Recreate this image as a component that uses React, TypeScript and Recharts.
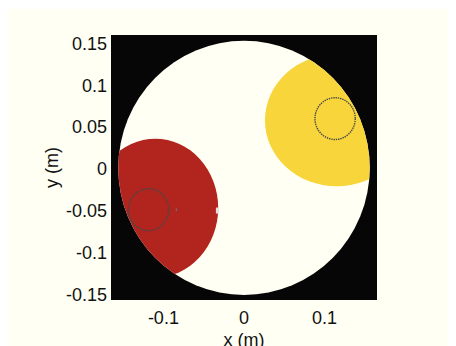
import { CartesianGrid, ReferenceArea, Scatter, ScatterChart, XAxis, YAxis } from "recharts";

const xTicks = [-0.1, 0, 0.1];
const yTicks = [-0.15, -0.1, -0.05, 0, 0.05, 0.1, 0.15];
const xDomain = [-0.165, 0.165];
const yDomain = [-0.157, 0.16];

// domain disc, red patch, yellow patch: centre and semi-axes (m)
const patchX = [0, -0.11, 0.115];
const patchY = [0.001, -0.047, 0.058];
const patchRx = [0.156, 0.078, 0.089];
const patchRy = [0.152, 0.083, 0.079];

// dotted rings
const ringX = [-0.1185, 0.113];
const ringY = [-0.049, 0.06];
const ringR = [0.025, 0.025];

// small stray marks
const speckX = [-0.084, -0.033];
const speckY = [-0.049, -0.05];
const specks = speckX.map((x, i) => ({ x, y: speckY[i] }));

const BG = "#fffff4";
const FONT = "'Liberation Sans', Arial, sans-serif";

const ellipseProps = (p: any) => ({
  cx: p.x + p.width / 2,
  cy: p.y + p.height / 2,
  rx: Math.abs(p.width) / 2,
  ry: Math.abs(p.height) / 2,
});

const DiscShape = (p: any) => (
  <g>
    <defs>
      <clipPath id="disc-clip">
        <ellipse {...ellipseProps(p)} />
      </clipPath>
    </defs>
    <ellipse {...ellipseProps(p)} fill={BG} />
  </g>
);

const patchShape = (fill: string) => (p: any) => (
  <g clipPath="url(#disc-clip)">
    <ellipse {...ellipseProps(p)} fill={fill} />
  </g>
);

const RingShape = (p: any) => (
  <ellipse {...ellipseProps(p)} fill="none" stroke="#484848" strokeWidth={1.4} strokeDasharray="1.4 0.9" />
);

const SpeckShape = (p: any) =>
  p.index === 0 ? (
    <rect x={p.cx - 0.5} y={p.cy - 1.5} width={1} height={3} fill="#777" />
  ) : (
    <rect x={p.cx - 1.5} y={p.cy - 3} width={3} height={6} fill="#e8dede" />
  );

export default function App() {
  return (
    <div style={{ width: 448, height: 337, marginTop: 1, background: BG }}>
      <ScatterChart width={448} height={337} margin={{ top: 26, right: 79, left: 43, bottom: 6 }}>
        <CartesianGrid fill="#060606" stroke="none" horizontal={false} vertical={false} />
        <XAxis
          type="number"
          dataKey="x"
          domain={xDomain}
          ticks={xTicks}
          allowDataOverflow
          axisLine={false}
          tickLine={false}
          tickSize={6}
          tickMargin={5}
          height={40}
          tick={{ fill: "#111", fontSize: 18, fontFamily: FONT }}
          label={({ viewBox }: any) => (
            <text x={viewBox.x + viewBox.width / 2} y={viewBox.y + 46} textAnchor="middle" fill="#111" fontSize={18} fontFamily={FONT}>
              x (m)
            </text>
          )}
        />
        <YAxis
          type="number"
          dataKey="y"
          domain={yDomain}
          ticks={yTicks}
          allowDataOverflow
          axisLine={false}
          tickLine={false}
          tickSize={2}
          tickMargin={2}
          width={60}
          tick={{ fill: "#111", fontSize: 18, fontFamily: FONT }}
          label={({ viewBox }: any) => {
            const lx = viewBox.x + 7;
            const ly = viewBox.y + viewBox.height / 2;
            return (
              <text x={lx} y={ly} transform={`rotate(-90, ${lx}, ${ly})`} textAnchor="middle" fill="#111" fontSize={18} fontFamily={FONT}>
                y (m)
              </text>
            );
          }}
        />
        <ReferenceArea
          x1={patchX[0] - patchRx[0]}
          x2={patchX[0] + patchRx[0]}
          y1={patchY[0] - patchRy[0]}
          y2={patchY[0] + patchRy[0]}
          ifOverflow="visible"
          shape={DiscShape}
        />
        <ReferenceArea
          x1={patchX[1] - patchRx[1]}
          x2={patchX[1] + patchRx[1]}
          y1={patchY[1] - patchRy[1]}
          y2={patchY[1] + patchRy[1]}
          ifOverflow="visible"
          shape={patchShape("#b2241e")}
        />
        <ReferenceArea
          x1={patchX[2] - patchRx[2]}
          x2={patchX[2] + patchRx[2]}
          y1={patchY[2] - patchRy[2]}
          y2={patchY[2] + patchRy[2]}
          ifOverflow="visible"
          shape={patchShape("#f7d53b")}
        />
        {ringX.map((cx, i) => (
          <ReferenceArea
            key={i}
            x1={cx - ringR[i]}
            x2={cx + ringR[i]}
            y1={ringY[i] - ringR[i]}
            y2={ringY[i] + ringR[i]}
            ifOverflow="visible"
            shape={RingShape}
          />
        ))}
        <Scatter data={specks} shape={SpeckShape} isAnimationActive={false} />
      </ScatterChart>
    </div>
  );
}
